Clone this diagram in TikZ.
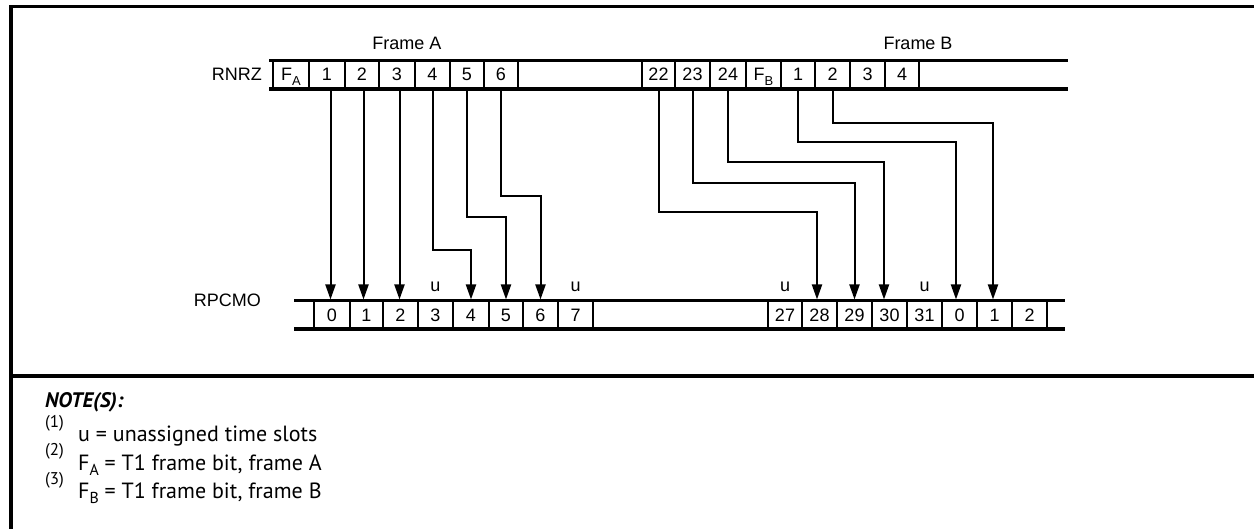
\documentclass[tikz,border=0pt]{standalone}
\usepackage{fontspec}
\setmainfont{Liberation Sans}
\newfontfamily\notefont{PT Sans}
\usetikzlibrary{arrows.meta}
\newcommand\sbs[1]{\raisebox{-0.25em}{\scalebox{0.72}{#1}}}
\newcommand\rcell[4]{\node[cell, minimum width={(#2-#1)*1pt}] (#4) at ({(#1+#2)/2}, 74.5) {#3};}
\newcommand\pcell[4]{\node[cell, minimum width={(#2-#1)*1pt}] (#4) at ({(#1+#2)/2}, 314.75) {#3};}
\begin{document}
\begin{tikzpicture}[x=1pt,y=-1pt,
  frameline/.style={line width=3.2pt},
  rowline/.style={line width=3.5pt},
  cell/.style={draw, line width=2pt, minimum height=28.5pt, inner sep=0pt,
    font=\fontsize{18}{20}\selectfont, text height=12.9pt, text depth=0pt},
  conn/.style={line width=2pt, -{Triangle[length=15pt,width=10pt]}},
  lbl/.style={font=\fontsize{18}{20}\selectfont, inner sep=0pt},
  note/.style={font=\notefont\fontsize{22}{24}\selectfont, inner sep=0pt, anchor=base west},
  notehead/.style={font=\notefont\fontsize{21}{24}\selectfont\bfseries\itshape, inner sep=0pt, anchor=base west},
  notenum/.style={font=\notefont\fontsize{17}{19}\selectfont, inner sep=0pt, anchor=base west}]
\useasboundingbox (0,0) rectangle (1254,529);
% outer frame
\draw[frameline] (1254,6.5) -- (11,6.5) -- (11,529);
\draw[frameline] (11,376) -- (1254,376);
% RNRZ row
\rcell{273}{309}{F\sbs{A}}{rfa}
\rcell{309}{345}{1}{r1}
\rcell{345}{379}{2}{r2}
\rcell{379}{415}{3}{r3}
\rcell{415}{450}{4}{r4}
\rcell{450}{484}{5}{r5}
\rcell{484}{518}{6}{r6}
\rcell{518}{642}{}{rgap}
\rcell{642}{675}{22}{r22}
\rcell{675}{710}{23}{r23}
\rcell{710}{746}{24}{r24}
\rcell{746}{781}{F\sbs{B}}{rfb}
\rcell{781}{815}{1}{rb1}
\rcell{815}{850}{2}{rb2}
\rcell{850}{885}{3}{rb3}
\rcell{885}{919}{4}{rb4}
\draw[rowline] (269,60.5) -- (1068,60.5);
\draw[rowline] (269,89) -- (1068,89);
% RPCMO row
\pcell{314}{350}{0}{p0}
\pcell{350}{383}{1}{p1}
\pcell{383}{418}{2}{p2}
\pcell{418}{453}{3}{p3}
\pcell{453}{489}{4}{p4}
\pcell{489}{523}{5}{p5}
\pcell{523}{558}{6}{p6}
\pcell{558}{593}{7}{p7}
\pcell{593}{768}{}{pgap}
\pcell{768}{802}{27}{p27}
\pcell{802}{837}{28}{p28}
\pcell{837}{872}{29}{p29}
\pcell{872}{907}{30}{p30}
\pcell{907}{942}{31}{p31}
\pcell{942}{977}{0}{q0}
\pcell{977}{1012}{1}{q1}
\pcell{1012}{1047}{2}{q2}
\draw[rowline] (294,300.5) -- (1065,300.5);
\draw[rowline] (294,329) -- (1065,329);
% labels
\node[lbl, anchor=base] (fA) at (407,50) {Frame A};
\node[lbl, anchor=base] (fB) at (918,50) {Frame B};
\node[lbl, anchor=east] (rnrz) at (262,74.5) {RNRZ};
\node[lbl, anchor=east] (rpcmo) at (261,300) {RPCMO};
\node[lbl, anchor=base] (u3) at (p3.center |- 0,292) {u};
\node[lbl, anchor=base] (u7) at (p7.center |- 0,292) {u};
\node[lbl, anchor=base] (u27) at (p27.center |- 0,292) {u};
\node[lbl, anchor=base] (u31) at (p31.center |- 0,292) {u};
% bend levels
\coordinate (k4) at (0,250);
\coordinate (k5) at (0,217);
\coordinate (k6) at (0,196);
\coordinate (k22) at (0,212);
\coordinate (k23) at (0,183);
\coordinate (k24) at (0,162);
\coordinate (kb1) at (0,142);
\coordinate (kb2) at (0,123);
% arrow targets
\coordinate (t0) at ([xshift=-1.5pt]p0.north);
\coordinate (t1) at ([xshift=-3pt]p1.north);
\coordinate (t2) at ([xshift=-1pt]p2.north);
\coordinate (t28) at ([xshift=-2.5pt]p28.north);
\coordinate (t30) at ([xshift=-5.5pt]p30.north);
\coordinate (tq0) at ([xshift=-3.5pt]q0.north);
\coordinate (tq1) at ([xshift=-1.5pt]q1.north);
% connectors
\draw[conn] (t0 |- r1.south) -- (t0);
\draw[conn] (t1 |- r2.south) -- (t1);
\draw[conn] (t2 |- r3.south) -- (t2);
\draw[conn] (r4.south) |- (k4 -| p4.north) -- (p4.north);
\draw[conn] (r5.south) |- (k5 -| p5.north) -- (p5.north);
\draw[conn] (r6.south) |- (k6 -| p6.north) -- (p6.north);
\draw[conn] (r22.south) |- (k22 -| t28) -- (t28);
\draw[conn] (r23.south) |- (k23 -| p29.north) -- (p29.north);
\draw[conn] (r24.south) |- (k24 -| t30) -- (t30);
\draw[conn] (rb1.south) |- (kb1 -| tq0) -- (tq0);
\draw[conn] (rb2.south) |- (kb2 -| tq1) -- (tq1);
% notes
\node[notehead] (nh) at (45,408) {NOTE(S):};
\node[notenum] (s1) at (45,428) {(1)};
\node[note] (n1) at (78,442) {u = unassigned time slots};
\node[notenum] (s2) at (45,456) {(2)};
\node[note] (n2) at (78,470) {F\sbs{A} = T1 frame bit, frame A};
\node[notenum] (s3) at (45,484) {(3)};
\node[note] (n3) at (78,498) {F\sbs{B} = T1 frame bit, frame B};
\end{tikzpicture}
\end{document}
